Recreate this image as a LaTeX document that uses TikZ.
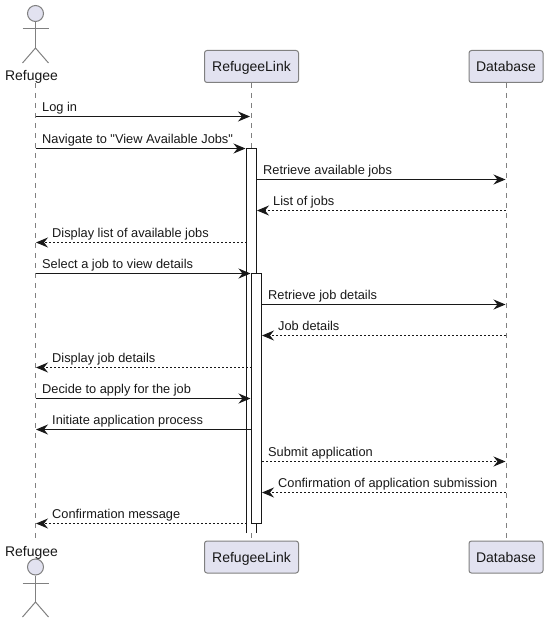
\documentclass[tikz,border=0pt]{standalone}
\usepackage{fontspec}
\setmainfont{Liberation Sans}[Ligatures=TeXOff]
\usetikzlibrary{arrows.meta}
\definecolor{partfill}{HTML}{E2E2F0}
\definecolor{partline}{HTML}{808080}
\definecolor{ink}{HTML}{181818}
\tikzset{
  part/.style={draw=partline,fill=partfill,rounded corners=2.5pt,line width=1pt,minimum height=32pt,inner sep=0pt,font=\fontsize{14}{16}\selectfont,text=ink},
  actorlabel/.style={inner sep=0pt,font=\fontsize{14}{16}\selectfont,text=ink},
  actorline/.style={draw=partline,line width=1pt},
  lifeline/.style={draw=partline,line width=1pt,dash pattern=on 5pt off 5pt},
  bar/.style={draw=ink,line width=1pt},
  msg/.style={draw=ink,line width=1pt,-{Stealth[length=12pt,width=10pt,inset=4pt,sep=0pt]}},
  reply/.style={msg,dash pattern=on 2pt off 2pt},
  lab/.style={anchor=base west,inner sep=0pt,font=\fontsize{12.8}{15}\selectfont,text=ink},
}
\begin{document}
\begin{tikzpicture}[x=1pt,y=-1pt]
\useasboundingbox (0,0) rectangle (549,623);
% participants
\node[part,minimum width=94pt,text depth=0pt] (linkT) at (251.5,66.5) {RefugeeLink};
\node[part,minimum width=74pt,text depth=0pt] (dbT) at (506,66.5) {Database};
\node[part,minimum width=94pt,text depth=0pt] (linkB) at (251.5,557) {RefugeeLink};
\node[part,minimum width=74pt,text depth=0pt] (dbB) at (506,557) {Database};
\node[actorlabel] (refT) at (31.5,76.5) {Refugee};
\node[actorlabel] (refB) at (31.5,552.5) {Refugee};
\coordinate (lifeT) at (35.5,83);
\coordinate (lifeB) at (35.5,540);
% lifelines
\draw[lifeline] (lifeT) -- (lifeB);
\draw[lifeline] (linkT.south) -- (linkB.north);
\draw[lifeline] (dbT.south) -- (dbB.north);
% actors
\node[circle,draw=partline,fill=partfill,line width=1pt,minimum size=16pt,inner sep=0pt] (headT) at (35.5,13.5) {};
\coordinate (hipT) at (35.5,48);
\coordinate (armTl) at (22.5,29);
\coordinate (armTr) at (48.5,29);
\coordinate (footTl) at (22.5,63);
\coordinate (footTr) at (48.5,63);
\draw[actorline] (headT.south) -- (hipT);
\draw[actorline] (armTl) -- (armTr);
\draw[actorline] (footTl) -- (hipT) -- (footTr);
\node[circle,draw=partline,fill=partfill,line width=1pt,minimum size=16pt,inner sep=0pt] (headB) at (35.5,567) {};
\coordinate (hipB) at (35.5,602);
\coordinate (armBl) at (22.5,583);
\coordinate (armBr) at (48.5,583);
\coordinate (footBl) at (22.5,617);
\coordinate (footBr) at (48.5,617);
\draw[actorline] (headB.south) -- (hipB);
\draw[actorline] (armBl) -- (armBr);
\draw[actorline] (footBl) -- (hipB) -- (footBr);
% activation bars
\path[fill=white] (246.7,148.5) rectangle (256.7,533);
\draw[bar] (246.7,533) -- (246.7,148.5) -- (256.7,148.5) -- (256.7,533);
\draw[bar,fill=white] (251.7,273.5) rectangle (261.7,523);
% message end points
\foreach \n/\x/\y in {
 a1/35.5/116.5,b1/250/116.5,
 a2/35.5/148.5,b2/245.5/148.5,
 a3/257/179.5,b3/505.5/179.5,
 a4/505.5/210.5,b4/257/210.5,
 a5/246.5/242.5,b5/36/242.5,
 a6/35.5/273.5,b6/250.5/273.5,
 a7/262/304.5,b7/505.5/304.5,
 a8/505.5/335.5,b8/262/335.5,
 a9/251.5/367.5,b9/36/367.5,
 a10/35.5/398.5,b10/250.5/398.5,
 a11/251.5/429.5,b11/36/429.5,
 a12/262/461.5,b12/505.5/461.5,
 a13/505.5/492.5,b13/262/492.5,
 a14/246.5/523.5,b14/36/523.5}
 {\coordinate (\n) at (\x,\y);}
\draw[msg] (a1) -- (b1);
\draw[msg] (a2) -- (b2);
\draw[msg] (a3) -- (b3);
\draw[reply] (a4) -- (b4);
\draw[reply] (a5) -- (b5);
\draw[msg] (a6) -- (b6);
\draw[msg] (a7) -- (b7);
\draw[reply] (a8) -- (b8);
\draw[reply] (a9) -- (b9);
\draw[msg] (a10) -- (b10);
\draw[msg] (a11) -- (b11);
\draw[reply] (a12) -- (b12);
\draw[reply] (a13) -- (b13);
\draw[reply] (a14) -- (b14);
% labels
\node[lab] (l1) at (42,111.5) {Log in};
\node[lab] (l2) at (42,143) {Navigate to "View Available Jobs"};
\node[lab] (l3) at (263,174.5) {Retrieve available jobs};
\node[lab] (l4) at (273,205.5) {List of jobs};
\node[lab] (l5) at (52,237) {Display list of available jobs};
\node[lab] (l6) at (42,268.5) {Select a job to view details};
\node[lab] (l7) at (268,299.5) {Retrieve job details};
\node[lab] (l8) at (278,330.5) {Job details};
\node[lab] (l9) at (52,362) {Display job details};
\node[lab] (l10) at (42,393.5) {Decide to apply for the job};
\node[lab] (l11) at (52,424.5) {Initiate application process};
\node[lab] (l12) at (268,456) {Submit application};
\node[lab] (l13) at (278,487) {Confirmation of application submission};
\node[lab] (l14) at (52,518) {Confirmation message};
\end{tikzpicture}
\end{document}
